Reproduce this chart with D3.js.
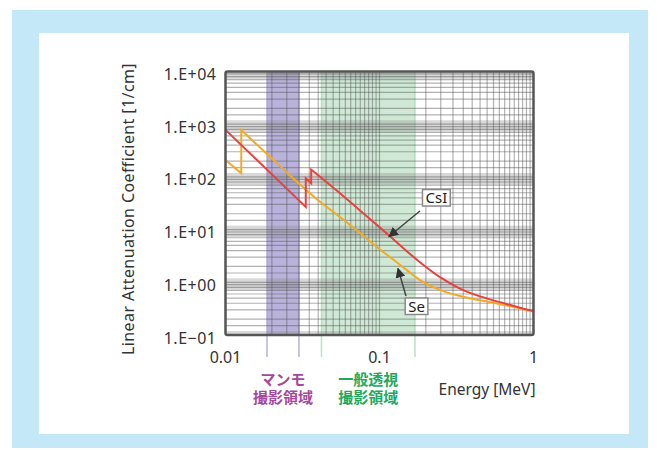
<!DOCTYPE html>
<html>
<head>
<meta charset="utf-8">
<script src="https://cdn.jsdelivr.net/npm/d3@7"></script>
<style>
body { margin: 0; background: #fff; }
text { font-family: "Noto Sans", sans-serif; }
</style>
</head>
<body>
<svg width="660" height="450"></svg>
<script>
// photon energy [MeV] and linear attenuation coefficient [1/cm]
const csiEnergy = [0.01, 0.0332, 0.0332, 0.036, 0.036, 0.0411, 0.0554, 0.0747, 0.1007, 0.136, 0.183, 0.247, 0.333, 0.45, 0.606, 0.817, 1.0]
const csiMu     = [780, 27, 94, 76, 138, 101, 48.9, 23.0, 10.9, 5.05, 2.4, 1.25, 0.76, 0.54, 0.42, 0.33, 0.285]
const seEnergy  = [0.01, 0.01266, 0.01266, 0.0214, 0.0411, 0.0554, 0.0747, 0.1007, 0.124, 0.15, 0.183, 0.247, 0.333, 0.45, 0.606, 0.817, 1.0]
const seMu      = [209, 117, 776, 185, 33.8, 17.3, 8.6, 4.2, 2.65, 1.72, 1.1, 0.72, 0.55, 0.455, 0.385, 0.32, 0.275]

const xTicks = [0.01, 0.1, 1]
const xTickLabels = ["0.01", "0.1", "1"]
const yTicks = [1e4, 1e3, 1e2, 1e1, 1, 0.1]
const yTickLabels = ["1.E+04", "1.E+03", "1.E+02", "1.E+01", "1.E+00", "1.E\u221201"]

// imaging regions (MeV)
const bandLines1 = ["マンモ", "一般透視"]
const bandLines2 = ["撮影領域", "撮影領域"]
const bandStart = [0.0186, 0.042]
const bandEnd = [0.030, 0.170]
const bandFill = ["#b9b3dc", "#cfe9d6"]
const bandEdge = ["#a59dd2", "#a9d9b5"]
const bandText = ["#a5489d", "#22a85c"]

// series labels: [label energy, label mu, arrow from E, from mu, to E, to mu]
const seriesNames = ["CsI", "Se"]
const seriesColors = ["#e8423f", "#f2aa25"]
const labelAt = [[0.234, 40.6, 0.183, 22.5, 0.1152, 7.4], [0.174, 0.355, 0.1486, 0.55, 0.1318, 1.83]]

// grid multiples inside each decade
const xSteps = [1, 2, 2.5, 3, 3.5, 4, 4.5, 5, 5.5, 6, 6.5, 7, 7.5, 8, 8.5, 9, 9.5]
const ySteps = [1, 1.5, 2, 3, 4, 5, 6, 7, 8, 9]

let svg = d3.select("svg")

svg.append("rect").attr("x", 12).attr("y", 10).attr("width", 636).attr("height", 438).attr("fill", "#c5e8f8")
svg.append("rect").attr("x", 39).attr("y", 33).attr("width", 590).attr("height", 401).attr("fill", "#fff")

let x = d3.scaleLog().domain([0.01, 1]).range([225.5, 533.5])
let y = d3.scaleLog().domain([0.1, 1e4]).range([335, 71.5])
const x0 = x.range()[0], x1 = x.range()[1], yTop = y.range()[1], yBot = y.range()[0]

// bands
for (let i = 0; i < bandStart.length; i++) {
    svg.append("rect")
        .attr("x", x(bandStart[i])).attr("y", yTop)
        .attr("width", x(bandEnd[i]) - x(bandStart[i])).attr("height", yBot - yTop)
        .attr("fill", bandFill[i])
    svg.selectAll(null).data([bandStart[i], bandEnd[i]]).enter().append("line")
        .attr("x1", d => x(d)).attr("x2", d => x(d))
        .attr("y1", yTop).attr("y2", yBot + 22)
        .attr("stroke", bandEdge[i]).attr("stroke-width", 1.5).attr("stroke-opacity", 0.8)
}

// gray bands around decade lines
svg.append("g").selectAll("rect").data(yTicks).enter().append("rect")
    .attr("x", x0)
    .attr("width", x1 - x0)
    .attr("y", d => Math.max(yTop, y(d * Math.pow(10, 0.075))))
    .attr("height", d => Math.min(yBot, y(d * Math.pow(10, -0.14))) - Math.max(yTop, y(d * Math.pow(10, 0.075))))
    .attr("fill", "#888").attr("opacity", 0.33)

// grid
let xGrid = []
for (let d of [0.01, 0.1]) xSteps.forEach(m => xGrid.push(d * m))
let yGrid = []
for (let d of [0.1, 1, 10, 100, 1000]) ySteps.forEach(m => yGrid.push(d * m))

let grid = svg.append("g").attr("stroke", "#555").attr("stroke-opacity", 0.45).attr("stroke-width", 1.2)
grid.selectAll(".gx").data(xGrid).enter().append("line")
    .attr("x1", d => x(d)).attr("x2", d => x(d)).attr("y1", yTop).attr("y2", yBot)
grid.selectAll(".gy").data(yGrid).enter().append("line")
    .attr("y1", d => y(d)).attr("y2", d => y(d)).attr("x1", x0).attr("x2", x1)

// curves: smooth runs, joined by the vertical absorption edges
function curvePath(es, ms) {
    let runs = [[]]
    es.forEach((e, i) => {
        let run = runs[runs.length - 1]
        if (run.length && run[run.length - 1][0] === e) runs.push([[e, ms[i]]])
        else run.push([e, ms[i]])
    })
    let line = d3.line().x(d => x(d[0])).y(d => y(d[1])).curve(d3.curveMonotoneX)
    return runs.map((r, i) => {
        let p = line(r)
        return i === 0 ? p : "L" + p.slice(1)
    }).join("")
}

svg.append("path").attr("d", curvePath(seEnergy, seMu))
    .attr("fill", "none").attr("stroke", seriesColors[1]).attr("stroke-width", 2)
svg.append("path").attr("d", curvePath(csiEnergy, csiMu))
    .attr("fill", "none").attr("stroke", seriesColors[0]).attr("stroke-width", 2)

// frame
svg.append("rect").attr("x", x0).attr("y", yTop).attr("width", x1 - x0).attr("height", yBot - yTop)
    .attr("rx", 2).attr("fill", "none").attr("stroke", "#555").attr("stroke-width", 2.5)

// axes labels
svg.append("g").selectAll("text").data(yTicks).enter().append("text")
    .attr("x", x0 - 9).attr("y", d => y(d) + 8.5)
    .attr("text-anchor", "end").attr("font-size", 16).attr("letter-spacing", 0.5).attr("fill", "#333")
    .text((d, i) => yTickLabels[i])

svg.append("g").selectAll("text").data(xTicks).enter().append("text")
    .attr("x", d => x(d)).attr("y", 362.5)
    .attr("text-anchor", "middle").attr("font-size", 16).attr("fill", "#333")
    .text((d, i) => xTickLabels[i])

svg.append("text")
    .attr("transform", "translate(134, 209) rotate(-90)")
    .attr("text-anchor", "middle").attr("font-size", 16).attr("letter-spacing", 0.4).attr("fill", "#333")
    .text("Linear Attenuation Coefficient [1/cm]")

svg.append("text")
    .attr("x", x1 + 2).attr("y", 395)
    .attr("text-anchor", "end").attr("font-size", 15.5).attr("fill", "#333")
    .text("Energy [MeV]")

for (let i = 0; i < bandStart.length; i++) {
    let cx = (x(bandStart[i]) + x(bandEnd[i])) / 2
    let t = svg.append("text").attr("x", cx).attr("y", 385)
        .attr("text-anchor", "middle").attr("font-size", 15).attr("font-weight", 700)
        .style("font-family", "'Noto Sans CJK JP'").attr("fill", bandText[i])
    t.append("tspan").attr("x", cx).text(bandLines1[i])
    t.append("tspan").attr("x", cx).attr("dy", 18).text(bandLines2[i])
}

// series labels with arrows
svg.append("defs").append("marker")
    .attr("id", "head").attr("viewBox", "0 0 10 10").attr("refX", 9).attr("refY", 5)
    .attr("markerWidth", 10).attr("markerHeight", 10).attr("markerUnits", "userSpaceOnUse")
    .attr("orient", "auto")
    .append("path").attr("d", "M0,0L10,5L0,10z").attr("fill", "#333")

for (let i = 0; i < seriesNames.length; i++) {
    let a = labelAt[i]
    svg.append("line")
        .attr("x1", x(a[2])).attr("y1", y(a[3])).attr("x2", x(a[4])).attr("y2", y(a[5]))
        .attr("stroke", "#444").attr("stroke-width", 1.5).attr("marker-end", "url(#head)")
    let t = svg.append("text").attr("x", x(a[0])).attr("y", y(a[1]) + 5.5)
        .attr("text-anchor", "middle").attr("font-size", 15).attr("fill", "#222")
        .text(seriesNames[i])
    let b = t.node().getBBox()
    svg.insert("rect", () => t.node())
        .attr("x", b.x - 3).attr("y", y(a[1]) - 8).attr("width", b.width + 6).attr("height", 16.5)
        .attr("fill", "#fff").attr("stroke", "#8a8a8a").attr("stroke-width", 1.5)
}
</script>
</body>
</html>
